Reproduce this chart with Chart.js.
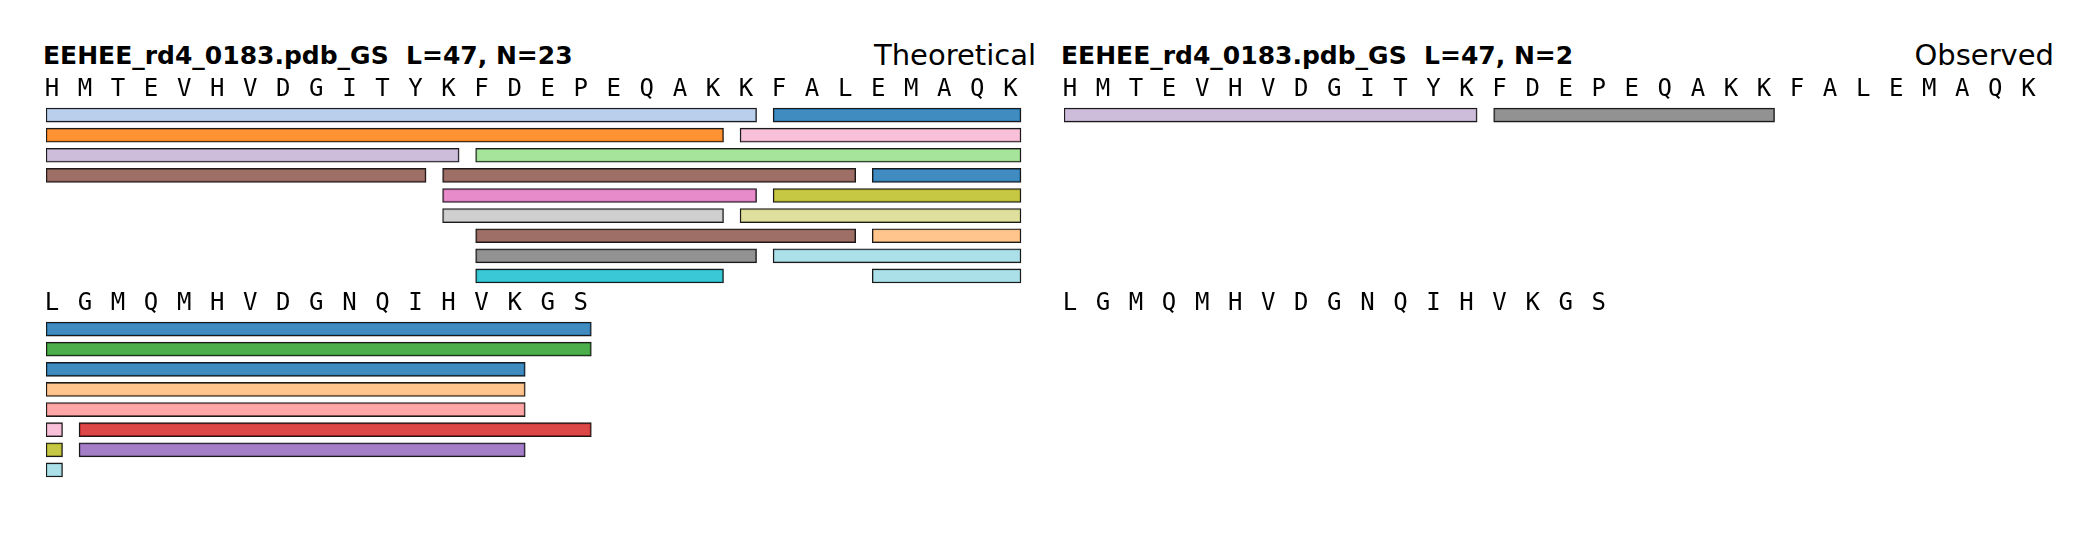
<!DOCTYPE html>
<html lang="en">
<head>
<meta charset="UTF-8">
<title>EEHEE_rd4_0183.pdb_GS fragments</title>
<style>
    body {
        margin: 0;
        background: #fff;
        width: 2100px;
        height: 540px;
        position: relative;
        overflow: hidden;
    }
    .box { position: absolute; }
    .title {
        position: absolute;
        top: 43px;
        font-family: 'DejaVu Sans', sans-serif;
        font-size: 25px;
        line-height: 1;
        white-space: pre;
        color: #000;
    }
    .name { font-weight: bold; }
    .kind { font-size: 29px; text-align: right; top: 41px; width: 400px; }
</style>
</head>
<body>

<div class="title name" id="theoName" style="left:43px"></div>
<div class="title kind" style="left:636px">Theoretical</div>
<div class="title name" id="obsName" style="left:1061px"></div>
<div class="title kind" style="left:1654px">Observed</div>

<div class="box" style="left:25.5px; top:73px; width:1031.5px; height:213px"><canvas id="theoTop"></canvas></div>
<div class="box" style="left:25.5px; top:287px; width:1031.5px; height:193px"><canvas id="theoBottom"></canvas></div>
<div class="box" style="left:1043.5px; top:73px; width:1031.5px; height:213px"><canvas id="obsTop"></canvas></div>
<div class="box" style="left:1043.5px; top:287px; width:1031.5px; height:193px"><canvas id="obsBottom"></canvas></div>

<script src="https://cdn.jsdelivr.net/npm/chart.js"></script>
<script>
const design = 'EEHEE_rd4_0183.pdb_GS';
const sequence = 'HMTEVHVDGITYKFDEPEQAKKFALEMAQKLGMQMHVDGNQIHVKGS';
const perLine = 30;
const theoN = 23;
const obsN = 2;
const lanes = [9, 8];

// [lane, first residue, last residue]
const theoLine1 = [
    [1, 1, 22], [1, 23, 30],
    [2, 1, 21], [2, 22, 30],
    [3, 1, 13], [3, 14, 30],
    [4, 1, 12], [4, 13, 25], [4, 26, 30],
    [5, 13, 22], [5, 23, 30],
    [6, 13, 21], [6, 22, 30],
    [7, 14, 25], [7, 26, 30],
    [8, 14, 22], [8, 23, 30],
    [9, 14, 21], [9, 26, 30]
];
const theoLine1Colors = ['#aec7e8', '#1f77b4', '#ff7f0e', '#f7b6d2', '#c5b0d5', '#98df8a',
    '#8c564b', '#8c564b', '#1f77b4', '#e377c2', '#bcbd22', '#c7c7c7', '#dbdb8d',
    '#8c564b', '#ffbb78', '#7f7f7f', '#9edae5', '#17becf', '#9edae5'];

const theoLine2 = [
    [1, 31, 47], [2, 31, 47], [3, 31, 45], [4, 31, 45], [5, 31, 45],
    [6, 31, 31], [6, 32, 47],
    [7, 31, 31], [7, 32, 45],
    [8, 31, 31]
];
const theoLine2Colors = ['#1f77b4', '#2ca02c', '#1f77b4', '#ffbb78', '#ff9896',
    '#f7b6d2', '#d62728', '#bcbd22', '#9467bd', '#9edae5'];

const obsLine1 = [[1, 1, 13], [1, 14, 22]];
const obsLine1Colors = ['#c5b0d5', '#7f7f7f'];
const obsLine2 = [];
const obsLine2Colors = [];

document.getElementById('theoName').textContent = design + '  L=' + sequence.length + ', N=' + theoN;
document.getElementById('obsName').textContent = design + '  L=' + sequence.length + ', N=' + obsN;

function fade(hex) {
    const r = parseInt(hex.slice(1, 3), 16);
    const g = parseInt(hex.slice(3, 5), 16);
    const b = parseInt(hex.slice(5, 7), 16);
    return 'rgba(' + r + ',' + g + ',' + b + ',0.85)';
}

function drawLine(id, line, segments, colors) {
    const first = line * perLine + 1;
    const letters = sequence.slice(first - 1, first - 1 + perLine).split('');
    const rows = Array.from({ length: lanes[line] }, (_, i) => String(i + 1));

    const datasets = segments.map((s, k) => ({
        data: rows.map((r, i) => (i + 1 === s[0] ? [s[1], s[2] + 0.5] : null)),
        backgroundColor: fade(colors[k]),
        borderColor: '#1a1a1a',
        borderWidth: 1.3,
        borderSkipped: false,
        barThickness: 14,
        grouped: false
    }));

    new Chart(document.getElementById(id), {
        type: 'bar',
        data: { labels: rows, datasets: datasets },
        options: {
            indexAxis: 'y',
            responsive: true,
            maintainAspectRatio: false,
            animation: false,
            layout: { padding: { left: 20, right: 20, top: 0, bottom: 0 } },
            plugins: { legend: { display: false }, tooltip: { enabled: false }, title: { display: false } },
            scales: {
                x: {
                    type: 'linear',
                    position: 'top',
                    min: first,
                    max: first + perLine,
                    grid: { display: false, drawTicks: false },
                    border: { display: false },
                    afterBuildTicks: axis => {
                        axis.ticks = letters.map((c, i) => ({ value: first + i + 0.18 }));
                    },
                    afterFit: axis => { axis.height = 32; },
                    ticks: {
                        autoSkip: false,
                        maxRotation: 0,
                        padding: 1,
                        color: '#000',
                        font: { family: 'DejaVu Sans Mono', size: 24 },
                        callback: (v, i) => letters[i]
                    }
                },
                y: { display: false }
            }
        }
    });
}

drawLine('theoTop', 0, theoLine1, theoLine1Colors);
drawLine('theoBottom', 1, theoLine2, theoLine2Colors);
drawLine('obsTop', 0, obsLine1, obsLine1Colors);
drawLine('obsBottom', 1, obsLine2, obsLine2Colors);
</script>
</body>
</html>
